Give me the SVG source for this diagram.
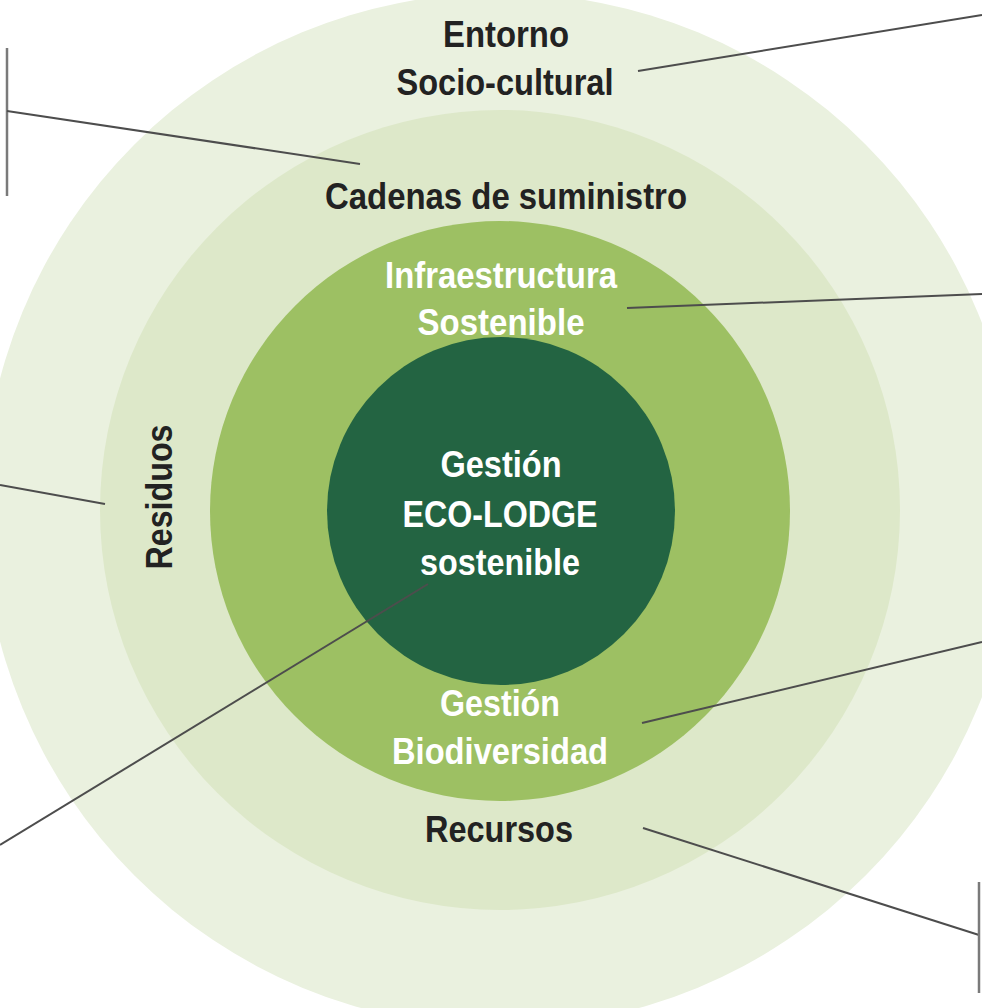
<svg xmlns="http://www.w3.org/2000/svg" width="982" height="1008" viewBox="0 0 982 1008">
<style>
.t{font-family:"Liberation Sans",Arial,sans-serif;font-weight:bold;font-size:36px;text-anchor:middle}
.dk{fill:#222222}
.wh{fill:#ffffff}
.ln{stroke:#4d4d4d;stroke-width:2;fill:none}
.bar{stroke:#7a7a7a;stroke-width:2.5;fill:none}
</style>
<rect width="982" height="1008" fill="#ffffff"/>
<g id="ring-entorno">
<circle cx="500" cy="510" r="517" fill="#EAF1DF"/>
<text class="t dk" x="506" y="47" textLength="126" lengthAdjust="spacingAndGlyphs">Entorno</text>
<text class="t dk" x="505" y="95" textLength="217" lengthAdjust="spacingAndGlyphs">Socio-cultural</text>
</g>
<g id="ring-cadenas">
<circle cx="500" cy="510" r="400" fill="#DDE8C9"/>
<text class="t dk" x="506" y="209" textLength="362" lengthAdjust="spacingAndGlyphs">Cadenas de suministro</text>
<text class="t dk" x="499" y="842" textLength="148" lengthAdjust="spacingAndGlyphs">Recursos</text>
<text class="t dk" transform="translate(172,497) rotate(-90)" x="0" y="0" textLength="145" lengthAdjust="spacingAndGlyphs">Residuos</text>
</g>
<g id="ring-infra">
<circle cx="500" cy="511" r="290" fill="#9DC063"/>
<text class="t wh" x="501" y="288" textLength="232" lengthAdjust="spacingAndGlyphs">Infraestructura</text>
<text class="t wh" x="501" y="335" textLength="167" lengthAdjust="spacingAndGlyphs">Sostenible</text>
<text class="t wh" x="500" y="716" textLength="120" lengthAdjust="spacingAndGlyphs">Gestión</text>
<text class="t wh" x="500" y="764" textLength="216" lengthAdjust="spacingAndGlyphs">Biodiversidad</text>
</g>
<g id="core">
<circle cx="501" cy="511" r="174" fill="#236442"/>
<text class="t wh" x="501" y="477" textLength="121" lengthAdjust="spacingAndGlyphs">Gestión</text>
<text class="t wh" x="500" y="527" textLength="195" lengthAdjust="spacingAndGlyphs">ECO-LODGE</text>
<text class="t wh" x="500" y="575" textLength="160" lengthAdjust="spacingAndGlyphs">sostenible</text>
</g>
<g id="connectors">
<line class="ln" x1="638" y1="71" x2="982" y2="15"/>
<line class="bar" x1="7" y1="48" x2="7" y2="196"/>
<line class="ln" x1="7" y1="111" x2="360" y2="164"/>
<line class="ln" x1="0" y1="485" x2="105" y2="504"/>
<line class="ln" x1="627" y1="308" x2="982" y2="294"/>
<line class="ln" x1="642" y1="723" x2="982" y2="642"/>
<line class="ln" x1="643" y1="828" x2="979" y2="935"/>
<line class="bar" x1="979" y1="882" x2="979" y2="993"/>
<line class="ln" x1="428" y1="584" x2="0" y2="845"/>
</g>
</svg>
